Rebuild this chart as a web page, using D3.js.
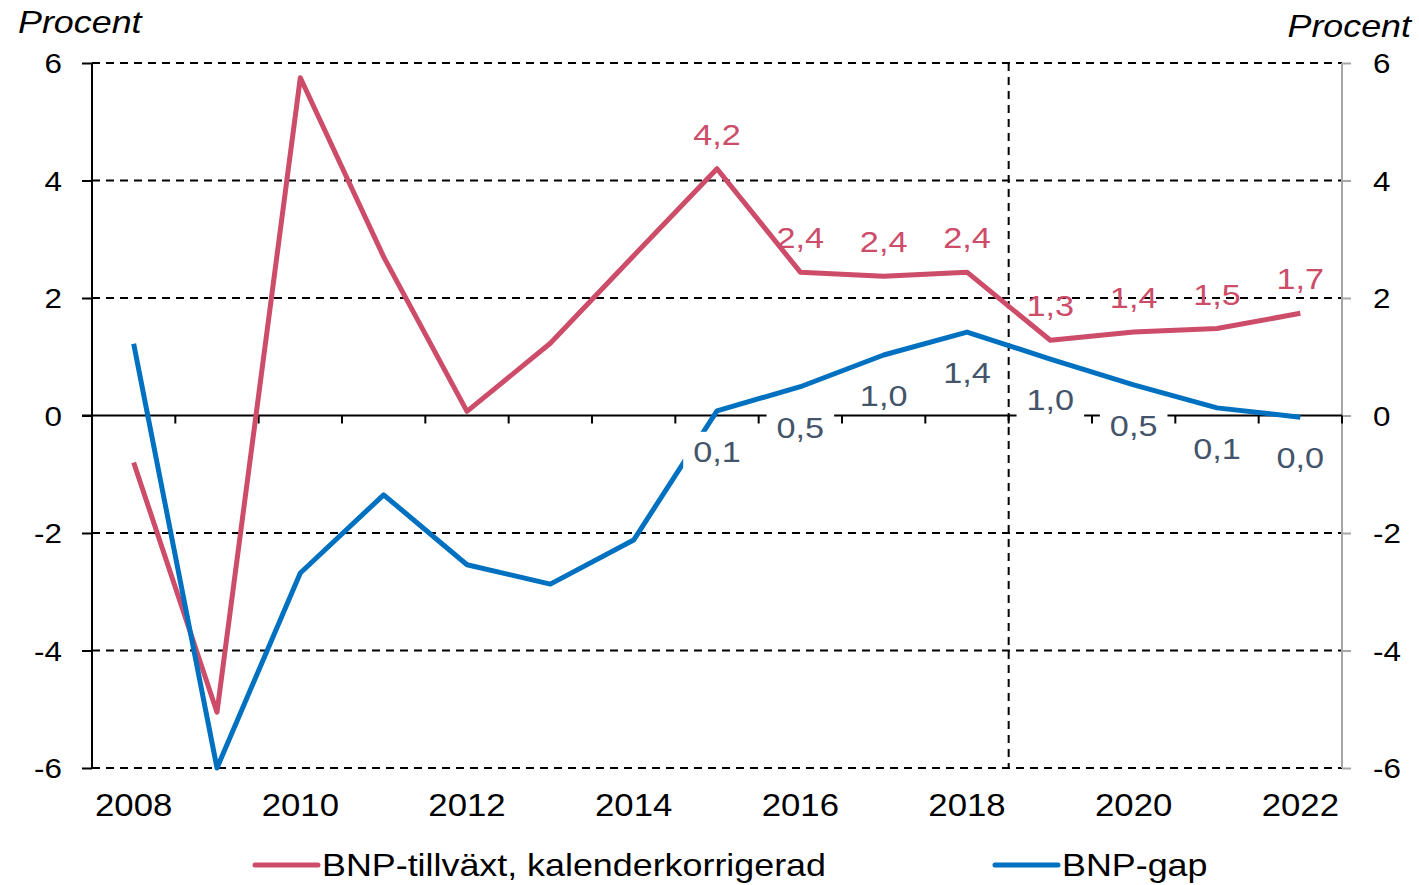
<!DOCTYPE html>
<html>
<head>
<meta charset="utf-8">
<script src="https://cdn.jsdelivr.net/npm/d3@7"></script>
<style>
  body { margin: 0; background: #fff; }
  svg { display: block; font-family: "Liberation Sans", Arial, sans-serif; }
</style>
</head>
<body>
<svg id="chart" width="1419" height="885"></svg>
<script>
// years on the x axis
const years = ["2008","2009","2010","2011","2012","2013","2014","2015","2016","2017","2018","2019","2020","2021","2022"];
// BNP-tillväxt, kalenderkorrigerad (procent)
const growth = [-0.8, -5.05, 5.75, 2.7, 0.07, 1.23, 2.72, 4.2, 2.44, 2.37, 2.44, 1.28, 1.42, 1.48, 1.74];
// BNP-gap (procent)
const gap = [1.22, -6.0, -2.68, -1.35, -2.54, -2.87, -2.12, 0.08, 0.49, 1.03, 1.42, 0.96, 0.52, 0.13, -0.03];
const yTicks = [-6, -4, -2, 0, 2, 4, 6];
const xLabels = ["2008","2010","2012","2014","2016","2018","2020","2022"];
const labelFrom = "2015"; // data labels shown from this year on
const forecastStart = "2019";

const red = "#CC4C69", blue = "#0070C0", labelBlue = "#44546A";
const svg = d3.select("#chart");
const plotLeft = 92, plotRight = 1342, plotTop = 63, plotBottom = 768;

const x = d3.scaleBand().domain(years).range([plotLeft, plotRight]).padding(0);
const y = d3.scaleLinear().domain([-6, 6]).range([plotBottom, plotTop]);
const cx = d => x(d) + x.bandwidth() / 2;
const fmt = v => d3.format(".1f")(Math.round(v * 10) / 10 === 0 ? 0 : v).replace(".", ",");

// dashed gridlines
svg.append("g").selectAll("line")
  .data(yTicks.filter(d => d !== 0))
  .join("line")
  .attr("x1", plotLeft).attr("x2", plotRight)
  .attr("y1", d => y(d)).attr("y2", d => y(d))
  .attr("stroke", "#000").attr("stroke-width", 2).attr("stroke-dasharray", "8,6");

// vertical dashed line, start of forecast
svg.append("line")
  .attr("x1", x(forecastStart)).attr("x2", x(forecastStart))
  .attr("y1", plotTop).attr("y2", plotBottom)
  .attr("stroke", "#000").attr("stroke-width", 2).attr("stroke-dasharray", "8,6");

// left axis
const yLeft = svg.append("g").attr("transform", `translate(${plotLeft},0)`)
  .call(d3.axisLeft(y).tickValues(yTicks).tickSize(10).tickPadding(20).tickFormat(d => String(d)));
yLeft.select(".domain").attr("stroke", "#000").attr("stroke-width", 2).attr("d", `M0,${plotTop}V${plotBottom}`);
yLeft.selectAll(".tick line").attr("stroke", "#000").attr("stroke-width", 2);
yLeft.selectAll(".tick text").attr("font-size", 28).attr("fill", "#000").attr("font-family", null)
  .attr("dy", "0.35em");

// right axis
const yRight = svg.append("g").attr("transform", `translate(${plotRight},0)`)
  .call(d3.axisRight(y).tickValues(yTicks).tickSize(9).tickPadding(22).tickFormat(d => String(d)));
yRight.select(".domain").attr("stroke", "#A6A6A6").attr("stroke-width", 2).attr("d", `M0,${plotTop}V${plotBottom}`);
yRight.selectAll(".tick line").attr("stroke", "#A6A6A6").attr("stroke-width", 2);
yRight.selectAll(".tick text").attr("font-size", 28).attr("fill", "#000").attr("font-family", null)
  .attr("dy", "0.35em");

// zero line with category ticks
const xAxis = svg.append("g").attr("transform", `translate(0,${y(0)})`)
  .call(d3.axisBottom(x).tickValues([]).tickSize(0));
xAxis.select(".domain").attr("stroke", "#000").attr("stroke-width", 2).attr("d", `M${plotLeft - 10},0H${plotRight}`);
xAxis.selectAll("line.cat").data(years.concat(["end"])).join("line").attr("class", "cat")
  .attr("x1", (d, i) => plotLeft + i * x.bandwidth()).attr("x2", (d, i) => plotLeft + i * x.bandwidth())
  .attr("y1", 0).attr("y2", 8).attr("stroke", "#000").attr("stroke-width", 2);

// year labels at bottom
svg.append("g").selectAll("text").data(xLabels).join("text")
  .attr("x", d => cx(d)).attr("y", 816)
  .attr("text-anchor", "middle").attr("font-size", 31).attr("fill", "#000")
  .text(d => d);

// axis titles
svg.append("text").attr("x", 18).attr("y", 33).attr("font-size", 32).attr("font-style", "italic").text("Procent");
svg.append("text").attr("x", 1411).attr("y", 37).attr("text-anchor", "end")
  .attr("font-size", 32).attr("font-style", "italic").text("Procent");

const line = d3.line().x(d => cx(d.year)).y(d => y(d.v));
const growthData = years.map((yr, i) => ({ year: yr, v: growth[i] }));
const gapData = years.map((yr, i) => ({ year: yr, v: gap[i] }));

svg.append("path").datum(growthData).attr("d", line)
  .attr("fill", "none").attr("stroke", red).attr("stroke-width", 5).attr("stroke-linejoin", "round");
svg.append("path").datum(gapData).attr("d", line)
  .attr("fill", "none").attr("stroke", blue).attr("stroke-width", 5).attr("stroke-linejoin", "round");

const shown = d => years.indexOf(d.year) >= years.indexOf(labelFrom);

// red labels, above points, no background
svg.append("g").selectAll("text").data(growthData.filter(shown)).join("text")
  .attr("class", "dlabel")
  .attr("x", d => cx(d.year)).attr("y", d => y(d.v) - 24)
  .attr("text-anchor", "middle").attr("font-size", 29).attr("fill", red)
  .text(d => fmt(d.v));

// blue labels, below points, white box
const gapLabels = svg.append("g").selectAll("g").data(gapData.filter(shown)).join("g");
gapLabels.append("rect").attr("fill", "#fff");
gapLabels.append("text")
  .attr("class", "dlabel")
  .attr("x", d => cx(d.year)).attr("y", d => y(d.v) + 51)
  .attr("text-anchor", "middle").attr("font-size", 29).attr("fill", labelBlue)
  .text(d => fmt(d.v));

// legend
const legend = [
  { name: "BNP-tillväxt, kalenderkorrigerad", color: red, x0: 255 },
  { name: "BNP-gap", color: blue, x0: 995 }
];
const lg = svg.append("g").selectAll("g").data(legend).join("g");
lg.append("line").attr("x1", d => d.x0).attr("x2", d => d.x0 + 63)
  .attr("y1", 865).attr("y2", 865).attr("stroke", d => d.color)
  .attr("stroke-width", 5).attr("stroke-linecap", "round");
lg.append("text").attr("x", d => d.x0 + 67).attr("y", 876)
  .attr("font-size", 32).attr("fill", "#000").text(d => d.name);

// text in the reference is stretched horizontally
svg.selectAll("text").each(function () {
  const w = this.getComputedTextLength();
  const k = this.classList.contains("dlabel") ? 1.18 : 1.12;
  d3.select(this).attr("textLength", w * k).attr("lengthAdjust", "spacingAndGlyphs");
});

// size the white label boxes after stretching
gapLabels.each(function () {
  const t = d3.select(this).select("text").node();
  const b = t.getBBox();
  const w = +t.getAttribute("textLength");
  const xc = +t.getAttribute("x");
  d3.select(this).select("rect")
    .attr("x", xc - w / 2 - 10).attr("width", w + 20)
    .attr("y", b.y - 4).attr("height", b.height + 6);
});
</script>
</body>
</html>
